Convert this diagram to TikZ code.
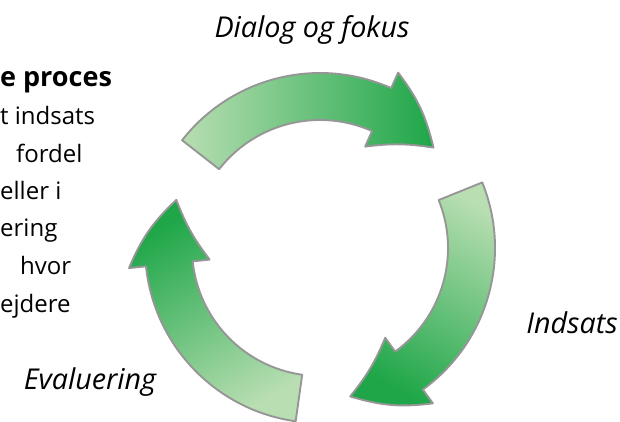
\documentclass[tikz,border=0pt]{standalone}
\usepackage{fontspec}
\setmainfont{Open Sans}
\usetikzlibrary{math}

\definecolor{cyclelight}{RGB}{184,222,178}
\definecolor{cycledark}{RGB}{30,166,72}
\definecolor{cycleedge}{RGB}{150,150,150}

\tikzset{
    cyclearrow/.style={draw=cycleedge, line width=1.9pt, line join=round,
        top color=cycledark, bottom color=cyclelight},
    steplabel/.style={font=\fontsize{28.7}{32}\selectfont\itshape, anchor=base, inner sep=0pt},
    sidetext/.style={font=\fontsize{24}{28}\selectfont, anchor=base west, inner sep=0pt},
}

\begin{document}
\begin{tikzpicture}[x=1pt, y=1pt]
    \useasboundingbox (0,0) rectangle (620,422);
    \tikzmath{
        \rOut = 175;
        \rIn = 128;
        \rMid = (\rOut + \rIn) / 2;
        \rBarbOut = 192;
        \rBarbIn = 111;
    }
    \coordinate (c) at (320,174);
%
    % three arrows, each turned 120 degrees from the last
    \foreach \rot in {0,-120,-240}{
        \tikzmath{
            \tailA = 142 + \rot;
            \headA = 66 + \rot;
            \tipA = 41.5 + \rot;
            \shadeA = \rot - 90;
        }
        \path[cyclearrow, shading angle=\shadeA]
            ([shift={(\tailA:\rOut)}]c) arc[start angle=\tailA, end angle=\headA, radius=\rOut]
            -- ([shift={(\headA:\rBarbOut)}]c) to[bend left=12] ([shift={(\tipA:\rMid)}]c)
            to[bend right=8] ([shift={(\headA:\rBarbIn)}]c) -- ([shift={(\headA:\rIn)}]c)
            arc[start angle=\headA, end angle=\tailA, radius=\rIn] -- cycle;
    }
%
    \node[steplabel] (dialog) at (312,384) {Dialog og fokus};
    \node[steplabel] (indsats) at (572,88) {Indsats};
    \node[steplabel] (evaluering) at (90,32) {Evaluering};
%
    \node[sidetext, font=\fontsize{27}{30}\selectfont\bfseries] (proces) at (0,335) {e proces};
    \node[sidetext] (line1) at (0,297) {t indsats};
    \node[sidetext] (line2) at (16,259) {fordel};
    \node[sidetext] (line3) at (0,222) {eller i};
    \node[sidetext] (line4) at (0,185) {ering};
    \node[sidetext] (line5) at (20,147) {hvor};
    \node[sidetext] (line6) at (0,109) {ejdere};
\end{tikzpicture}
\end{document}
